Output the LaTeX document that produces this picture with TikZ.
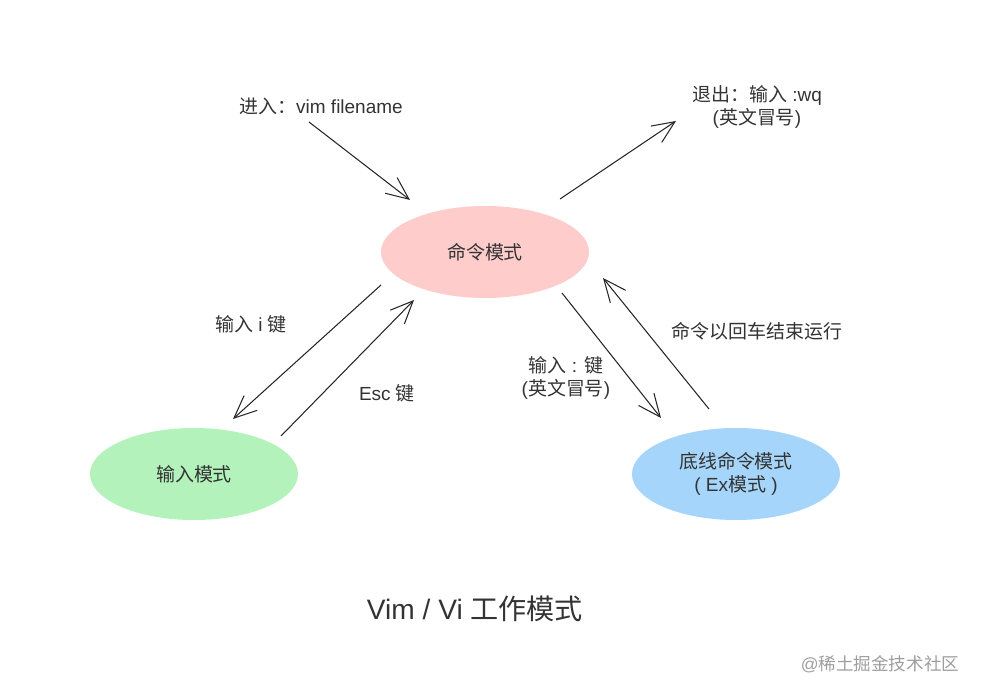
\documentclass[tikz,border=0pt]{standalone}
\usepackage{fontspec}
\setmainfont{Liberation Sans}
\newfontfamily\cjk{Noto Sans CJK SC}
\usetikzlibrary{shapes.geometric,arrows.meta}
\definecolor{cmdpink}{HTML}{FFCCCC}
\definecolor{inputgreen}{HTML}{B3F2BB}
\definecolor{exblue}{HTML}{A6D5FB}
\definecolor{txtgray}{HTML}{333333}

\begin{document}
\begin{tikzpicture}[x=0.025cm,y=-0.025cm,
    mode/.style={ellipse,minimum width=5.2cm,minimum height=2.3cm,inner sep=0pt,align=center,
      text=txtgray,font=\fontsize{13.5}{16.5}\selectfont},
    lbl/.style={align=center,text=txtgray,font=\fontsize{13.5}{16.5}\selectfont},
    arr/.style={line width=0.75pt,draw=black!85,-{Straight Barb[length=16pt,width=14pt]}}]
    \useasboundingbox (0,0) rectangle (982,695);
    % modes
    \node[mode,fill=cmdpink] (cmd) at (485,252) {\cjk 命令模式};
    \node[mode,fill=inputgreen] (ins) at (194,474) {\cjk 输入模式};
    \node[mode,fill=exblue] (ex) at (736,474) {{\cjk 底线命令模式}\\( Ex{\cjk 模式} )};
    % labels
    \node[lbl] (enter) at (321,106) {{\cjk 进入：}vim filename};
    \node[lbl] (quit) at (757,107) {{\cjk 退出：输入} :wq\\({\cjk 英文冒号})};
    \node[lbl] (keyi) at (251,324) {{\cjk 输入} i {\cjk 键}};
    \node[lbl] (keyesc) at (387,393) {Esc {\cjk 键}};
    \node[lbl] (keycolon) at (566,378) {{\cjk 输入} : {\cjk 键}\\({\cjk 英文冒号})};
    \node[lbl] (keyret) at (757,331) {\cjk 命令以回车结束运行};
    \node[lbl,font=\fontsize{20}{24}\selectfont] (title) at (475,609) {Vim / Vi {\cjk 工作模式}};
    \node[lbl,text=black!38,font=\fontsize{12.5}{15}\selectfont] (mark) at (880,664) {@{\cjk 稀土掘金技术社区}};
    % arrow ends
    \coordinate (a1) at (309,122); \coordinate (b1) at (410,200);
    \coordinate (a2) at (560,199); \coordinate (b2) at (676,121);
    \coordinate (a3) at (381,285); \coordinate (b3) at (233,419);
    \coordinate (a4) at (281,436); \coordinate (b4) at (414,300);
    \coordinate (a5) at (562,293); \coordinate (b5) at (661,418);
    \coordinate (a6) at (709,409); \coordinate (b6) at (603,278);
    \draw[arr] (a1) -- (b1);
    \draw[arr] (a2) -- (b2);
    \draw[arr] (a3) -- (b3);
    \draw[arr] (a4) -- (b4);
    \draw[arr] (a5) -- (b5);
    \draw[arr] (a6) -- (b6);
\end{tikzpicture}
\end{document}
